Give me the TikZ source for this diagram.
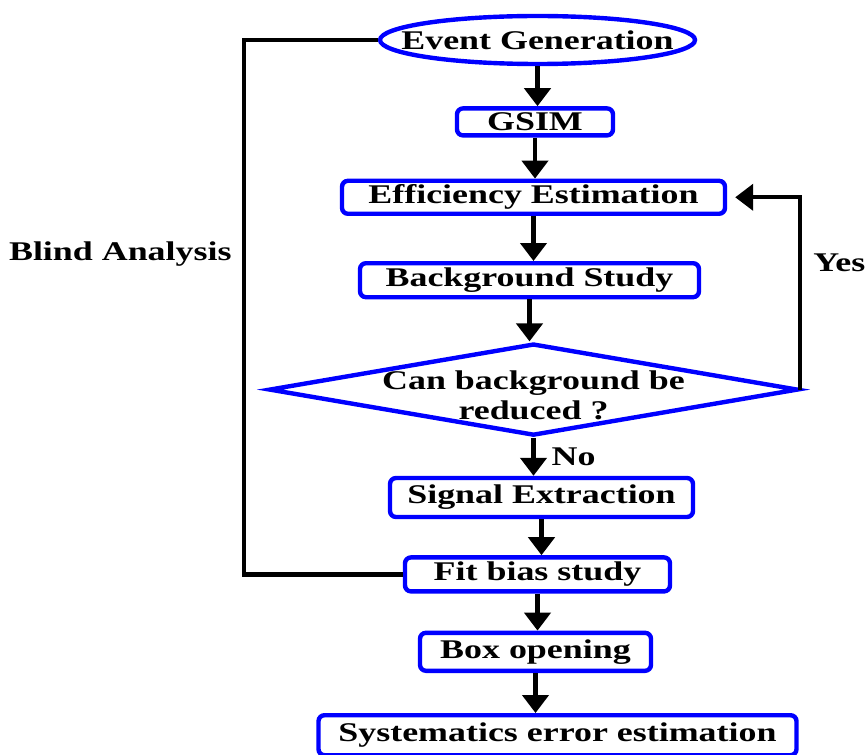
\documentclass[tikz,border=0pt]{standalone}
\usepackage{fontspec}
\setmainfont{Liberation Serif}[FakeStretch=1.33]
\usetikzlibrary{positioning}
\usetikzlibrary {arrows.meta}
\usetikzlibrary{shapes.geometric}
\tikzset{flowbox/.style={rectangle,rounded corners=3pt,draw=blue,line width=2.2pt,fill=white,
inner sep=1pt,minimum height=17pt}}
\tikzset{flowstart/.style={ellipse,draw=blue,line width=2.2pt,fill=white,
inner xsep=-14pt,inner ysep=0pt,minimum width=157.5pt, minimum height=24pt}}
\tikzset{flowdecision/.style={diamond,draw=blue,line width=2.2pt,fill=white,align=center,
inner xsep=-40pt,inner ysep=0pt,aspect=5.5,minimum width=264.5pt, minimum height=46pt}}
\tikzset{flowlabel/.style={draw=none,inner sep=1pt}}
\tikzset{flowarrow/.style={line width=2.2pt,-{Triangle[length=9pt,width=13pt]}}}

\begin{document}
\begin{tikzpicture}[font=\fontsize{13.5}{15}\selectfont\bfseries]
        \useasboundingbox (0,0) rectangle (433pt,-377pt);

        \node[flowstart] (boxEvt) at (268.75pt,-20pt) {Event Generation};
        \node[flowbox,minimum width=78pt,minimum height=13.5pt] (boxGsim) [below=20pt of boxEvt,xshift=-1.25pt] {GSIM};
        \node[flowbox,minimum width=191.5pt,minimum height=16.5pt] (boxEff) [below=20.5pt of boxGsim,xshift=-0.75pt] {Efficiency Estimation};
        \node[flowbox,minimum width=169.5pt,minimum height=17pt] (boxBkg) [below=22.5pt of boxEff,xshift=-2pt] {Background Study};
        \node[flowdecision,text height=30pt] (boxCut) [below=21pt of boxBkg,xshift=2pt] {Can background be\\reduced ?};
        \node[flowbox,minimum width=151.5pt,minimum height=19.5pt] (boxSig) [below=19pt of boxCut,xshift=4pt] {Signal Extraction};
        \node[flowbox,minimum width=132.5pt,minimum height=17pt] (boxFit) [below=18pt of boxSig,xshift=-2pt] {Fit bias study};
        \node[flowbox,minimum width=115.5pt,minimum height=19pt] (boxOpen) [below=18.5pt of boxFit,xshift=-1pt] {Box opening};
        \node[flowbox,minimum width=239pt,minimum height=20pt] (boxSyst) [below=20pt of boxOpen,xshift=11pt] {Systematics error estimation};

        \draw [flowarrow] (boxEvt.south) -- (boxEvt.south |- boxGsim.north);
        \draw [flowarrow] (boxGsim.south) -- (boxGsim.south |- boxEff.north);
        \draw [flowarrow] (boxEff.south) -- (boxEff.south |- boxBkg.north);
        \draw [flowarrow] (boxBkg.south) -- (boxBkg.south |- boxCut.north);
        \draw [flowarrow] (boxCut.south) -- node[flowlabel, right=7pt] {No} (boxCut.south |- boxSig.north);
        \draw [flowarrow] (boxSig.south) -- (boxSig.south |- boxFit.north);
        \draw [flowarrow] (boxFit.south) -- (boxFit.south |- boxOpen.north);
        \draw [flowarrow] (boxOpen.south) -- (boxOpen.south |- boxSyst.north);

        % loop back when the background can still be cut down
        \draw [flowarrow,shorten >=4pt] (boxCut.east) |- node[flowlabel, pos=0.33, right=4.5pt] {Yes} (boxEff.east);

        % blind analysis loop
        \draw [line width=2.2pt] (boxEvt.west) -- ++(-67pt,0) |- node[flowlabel, pos=0.2, left=4pt] {Blind Analysis} (boxFit.west);

    \end{tikzpicture}
\end{document}
